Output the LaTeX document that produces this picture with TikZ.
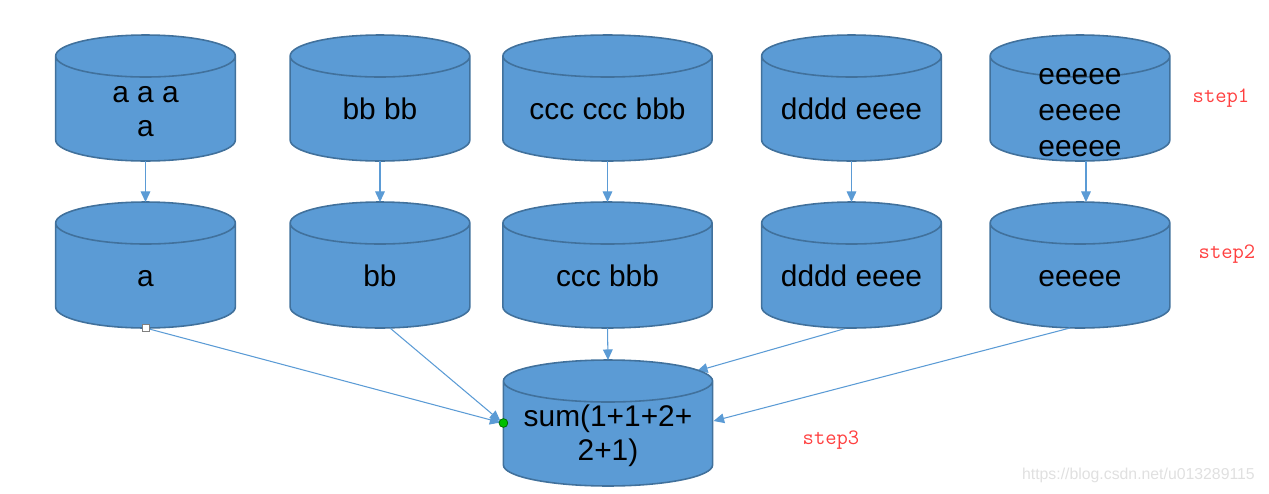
\documentclass[tikz,border=0pt]{standalone}
\usepackage{fontspec}
\setmainfont{Liberation Sans}
\usepackage{xcolor}
\usetikzlibrary{backgrounds,calc,positioning,arrows.meta}

\definecolor{canblue}{HTML}{5B9BD5}
\definecolor{canedge}{HTML}{41719C}
\definecolor{stepred}{HTML}{FF4040}

\begin{document}
\begin{tikzpicture}[x=0.02cm,y=-0.02cm]

\useasboundingbox (0,0) rectangle (1269,494);

\tikzstyle{canbox} = [rectangle, inner sep=0pt, minimum height=1.26cm, minimum width=3.58cm, align=center, font=\fontsize{17}{19.4}\selectfont]
\tikzstyle{oneline} = [text height=13pt, text depth=0pt]
\tikzstyle{widebox} = [minimum width=4.17cm]
\tikzstyle{can} = [fill=canblue, draw=canedge, line width=0.9pt]
\tikzstyle{flow} = [draw=canblue, line width=0.6pt, -{Triangle[length=6pt,width=5.5pt]}, canblue]
\tikzstyle{steplabel} = [text=stepred, font=\ttfamily\fontsize{12.5}{14}\selectfont]

% step 1
\node (a1) [canbox] at (145.5,112) {a a a\\a};
\node (b1) [canbox,oneline] at (380,108.5) {bb bb};
\node (c1) [canbox,widebox,oneline] at (607.5,108.5) {ccc ccc bbb};
\node (d1) [canbox,oneline] at (851.5,108.5) {dddd eeee};
\node (e1) [canbox,font=\fontsize{17}{20.4}\selectfont] at (1080,112.5) {eeeee\\eeeee\\eeeee};
\node (s1text) [steplabel] at (1221,98) {step1};

% step 2
\node (a2) [canbox,oneline] at (145.5,275.5) {a};
\node (b2) [canbox,oneline] at (380,275.5) {bb};
\node (c2) [canbox,widebox,oneline] at (607.5,275.5) {ccc bbb};
\node (d2) [canbox,oneline] at (851.5,275.5) {dddd eeee};
\node (e2) [canbox,oneline] at (1080,275.5) {eeeee};
\node (s2text) [steplabel] at (1227,254) {step2};

% step 3
\node (sum) [canbox,widebox] at (608,435.5) {sum(1+1+2+\\2+1)};
\node (s3text) [steplabel] at (831,440) {step3};

\node (mark) [text=black!12, anchor=east, font=\fontsize{9}{10}\selectfont] at (1261,475) {https://blog.csdn.net/u013289115};

\begin{scope}[on background layer]
\draw [flow] ($(d2.center)+(-4.5,52.5)$) -- ($(sum.center)+(89,-64.5)$);
\foreach \c/\r in {a1/108.5,b1/108.5,c1/108.5,d1/108.5,e1/108.5,a2/275.5,b2/275.5,c2/275.5,d2/275.5,e2/275.5,sum/433.5} {
  \path [can] let \p1=(\c.west), \p2=(\c.east), \p3=(\c.center |- 0,\r) in
    (\x1,{\y3+1.05cm}) -- (\x1,{\y3-0.63cm})
    arc[start angle=180,end angle=360,x radius={(\x2-\x1)/2},y radius=0.42cm]
    -- (\x2,{\y3+1.05cm})
    arc[start angle=0,end angle=180,x radius={(\x2-\x1)/2},y radius=0.42cm] -- cycle
    (\x3,{\y3+1.05cm}) ellipse[x radius={(\x2-\x1)/2},y radius=0.42cm];
}
\end{scope}

\draw [flow] ($(a1.center)+(0,49)$) -- ($(a2.center)+(0,-73.5)$);
\draw [flow] ($(b1.center)+(0,52.5)$) -- ($(b2.center)+(0,-73.5)$);
\draw [flow] ($(c1.center)+(0,52.5)$) -- ($(c2.center)+(0,-73.5)$);
\draw [flow] ($(d1.center)+(0,52.5)$) -- ($(d2.center)+(0,-73.5)$);
\draw [flow] ($(e1.center)+(6,48.5)$) -- ($(e2.center)+(6,-73.5)$);

\draw [flow] ($(a2.center)+(0,52.5)$) -- ($(sum.west)+(-3,-13)$);
\draw [flow] ($(b2.center)+(10,52.5)$) -- ($(sum.west)+(-3,-14.5)$);
\draw [flow] ($(c2.center)+(0,52.5)$) -- ($(sum.center)+(0,-75.5)$);
\draw [flow] ($(e2.center)+(-10,52.5)$) -- ($(sum.east)+(1,-14.5)$);

\node (grip) [draw=gray, fill=white, minimum size=4pt, inner sep=0pt] at ($(a2.center)+(0,52.5)$) {};
\node (pin) [circle, draw=green!40!black, fill=green!75!black, minimum size=5pt, inner sep=0pt] at ($(sum.west)+(0,-12.5)$) {};

\end{tikzpicture}
\end{document}
